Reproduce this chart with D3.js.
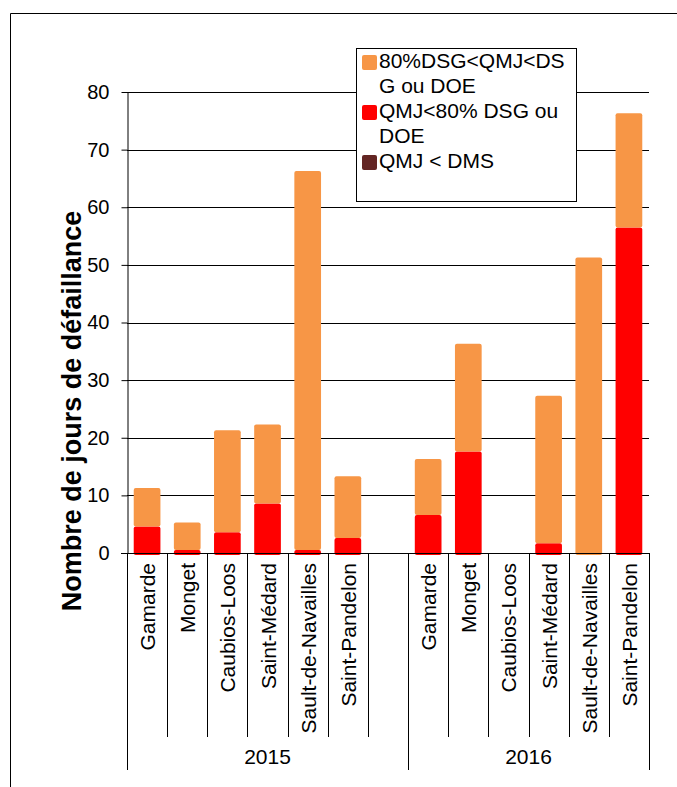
<!DOCTYPE html>
<meta charset="utf-8">
<script src="https://d3js.org/d3.v7.min.js"></script>
<style>
  body { margin: 0; background: #fff; }
  text { font-family: Arial, "Liberation Sans", sans-serif; fill: #000; }
</style>
<body>
<div id="chart"></div>
<script>

// data
var years = ["2015", "2016"];
var stations = ["Gamarde", "Monget", "Caubios-Loos", "Saint-Médard", "Sault-de-Navailles", "Saint-Pandelon"];
var dms2015 = [0, 0, 0, 0, 0, 0];
var red2015 = [4.6, 0.5, 3.6, 8.6, 0.5, 2.6];
var orange2015 = [6.7, 4.8, 17.7, 13.7, 65.8, 10.7];
var dms2016 = [0, 0, 0, 0, 0, 0];
var red2016 = [6.6, 17.6, 0, 1.7, 0, 56.5];
var orange2016 = [9.7, 18.7, 0, 25.6, 51.3, 19.8];
var yTicks = [0, 10, 20, 30, 40, 50, 60, 70, 80];
var legendItems = [
  { lines: ["80%DSG<QMJ<DS", "G ou DOE"], color: "#f79646" },
  { lines: ["QMJ<80% DSG ou", "DOE"], color: "#ff0000" },
  { lines: ["QMJ < DMS"], color: "#632523" }
];

var width = 677, height = 787;
var plotLeft = 127, plotRight = 649, plotTop = 92, plotBottom = 553;

var svg = d3.select("#chart").append("svg")
  .attr("width", width)
  .attr("height", height);

// outer frame (left and top edges visible)
svg.append("path")
  .attr("d", "M10.5," + height + "V13.5H" + width)
  .attr("fill", "none")
  .attr("stroke", "#000")
  .attr("stroke-width", 1);

// build slots: 2015 stations, one empty slot, 2016 stations
var rows = [];
stations.forEach(function(s, i) {
  rows.push({ key: "2015|" + s, name: s, year: "2015", dms: dms2015[i], red: red2015[i], orange: orange2015[i] });
});
rows.push({ key: "gap", name: "", year: "2015", dms: 0, red: 0, orange: 0 });
stations.forEach(function(s, i) {
  rows.push({ key: "2016|" + s, name: s, year: "2016", dms: dms2016[i], red: red2016[i], orange: orange2016[i] });
});

var pad = 0.335;
var x = d3.scaleBand()
  .domain(rows.map(function(d) { return d.key; }))
  .range([plotLeft, plotRight])
  .paddingInner(pad)
  .paddingOuter(pad / 2);
var step = x.step();

var y = d3.scaleLinear()
  .domain([0, 80])
  .range([plotBottom, plotTop]);

// gridlines
svg.append("g")
  .selectAll("line")
  .data(yTicks.filter(function(t) { return t > 0; }))
  .enter()
  .append("line")
  .attr("x1", plotLeft)
  .attr("x2", plotRight)
  .attr("y1", function(d) { return Math.round(y(d)) + 0.5; })
  .attr("y2", function(d) { return Math.round(y(d)) + 0.5; })
  .attr("stroke", "#000")
  .attr("stroke-width", 1);

// y axis
var yAxis = svg.append("g")
  .attr("transform", "translate(" + (plotLeft + 0.5) + ",0)")
  .call(d3.axisLeft(y).tickValues(yTicks).tickSize(6).tickPadding(12).tickSizeOuter(0));
yAxis.select(".domain").attr("stroke", "#000");
yAxis.selectAll(".tick line").attr("stroke", "#000");
yAxis.selectAll("text")
  .style("font-size", "20px")
  .style("font-family", "Arial, 'Liberation Sans', sans-serif")
  .attr("fill", "#000");

svg.append("text")
  .attr("transform", "translate(81,411) rotate(-90)")
  .attr("text-anchor", "middle")
  .style("font-size", "27px")
  .style("font-weight", "bold")
  .text("Nombre de jours de défaillance");

// stacked bars
var stack = d3.stack().keys(["red", "orange", "dms"]);
var colors = { red: "#ff0000", orange: "#f79646", dms: "#632523" };
var series = stack(rows);

svg.append("g")
  .selectAll("g")
  .data(series)
  .enter()
  .append("g")
  .attr("fill", function(s) { return colors[s.key]; })
  .selectAll("rect")
  .data(function(s) { return s.filter(function(d) { return d[1] - d[0] > 0; }); })
  .enter()
  .append("rect")
  .attr("x", function(d) { return x(d.data.key); })
  .attr("width", x.bandwidth())
  .attr("y", function(d) { return y(d[1]); })
  .attr("height", function(d) { return y(d[0]) - y(d[1]) + (d[0] === 0 ? 2 : 0); })
  .attr("rx", 2);

// x baseline
svg.append("line")
  .attr("x1", plotLeft - 6)
  .attr("x2", plotRight)
  .attr("y1", Math.round(y(0)) + 0.5)
  .attr("y2", Math.round(y(0)) + 0.5)
  .attr("stroke", "#000");

// category separators
var bounds = rows.map(function(d) { return x(d.key) - step * pad / 2; });
bounds.push(plotRight);
svg.append("g")
  .selectAll("line")
  .data(bounds)
  .enter()
  .append("line")
  .attr("x1", function(d) { return Math.round(d) + 0.5; })
  .attr("x2", function(d) { return Math.round(d) + 0.5; })
  .attr("y1", plotBottom)
  .attr("y2", function(d, i) {
    return (i === 0 || i === 7 || i === bounds.length - 1) ? 770 : 737;
  })
  .attr("stroke", "#000");

// category labels
svg.append("g")
  .selectAll("text")
  .data(rows.filter(function(d) { return d.name !== ""; }))
  .enter()
  .append("text")
  .attr("transform", function(d) {
    return "translate(" + (x(d.key) + x.bandwidth() / 2 + 8) + ",563) rotate(-90)";
  })
  .attr("text-anchor", "end")
  .style("font-size", "21px")
  .text(function(d) { return d.name; });

// year labels
svg.append("g")
  .selectAll("text")
  .data(years)
  .enter()
  .append("text")
  .attr("x", function(yr) {
    var r = rows.filter(function(d) { return d.year === yr; });
    var a = x(r[0].key) - step * pad / 2;
    var b = x(r[r.length - 1].key) + x.bandwidth() + step * pad / 2;
    return (a + b) / 2;
  })
  .attr("y", 764)
  .attr("text-anchor", "middle")
  .style("font-size", "21px")
  .text(function(d) { return d; });

// legend
var lg = svg.append("g");
lg.append("rect")
  .attr("x", 356.5)
  .attr("y", 48.5)
  .attr("width", 220)
  .attr("height", 153)
  .attr("fill", "#fff")
  .attr("stroke", "#000");

var lineH = 25;
var rowY = 0;
legendItems.forEach(function(item) {
  var baseY = 68 + rowY * lineH;
  lg.append("rect")
    .attr("x", 362)
    .attr("y", baseY - 13)
    .attr("width", 15)
    .attr("height", 15)
    .attr("rx", 2)
    .attr("fill", item.color);
  var t = lg.append("text")
    .attr("x", 379)
    .attr("y", baseY)
    .style("font-size", "21px");
  item.lines.forEach(function(l, j) {
    t.append("tspan")
      .attr("x", 379)
      .attr("y", baseY + j * lineH)
      .text(l);
  });
  rowY += item.lines.length;
});

</script>
</body>
